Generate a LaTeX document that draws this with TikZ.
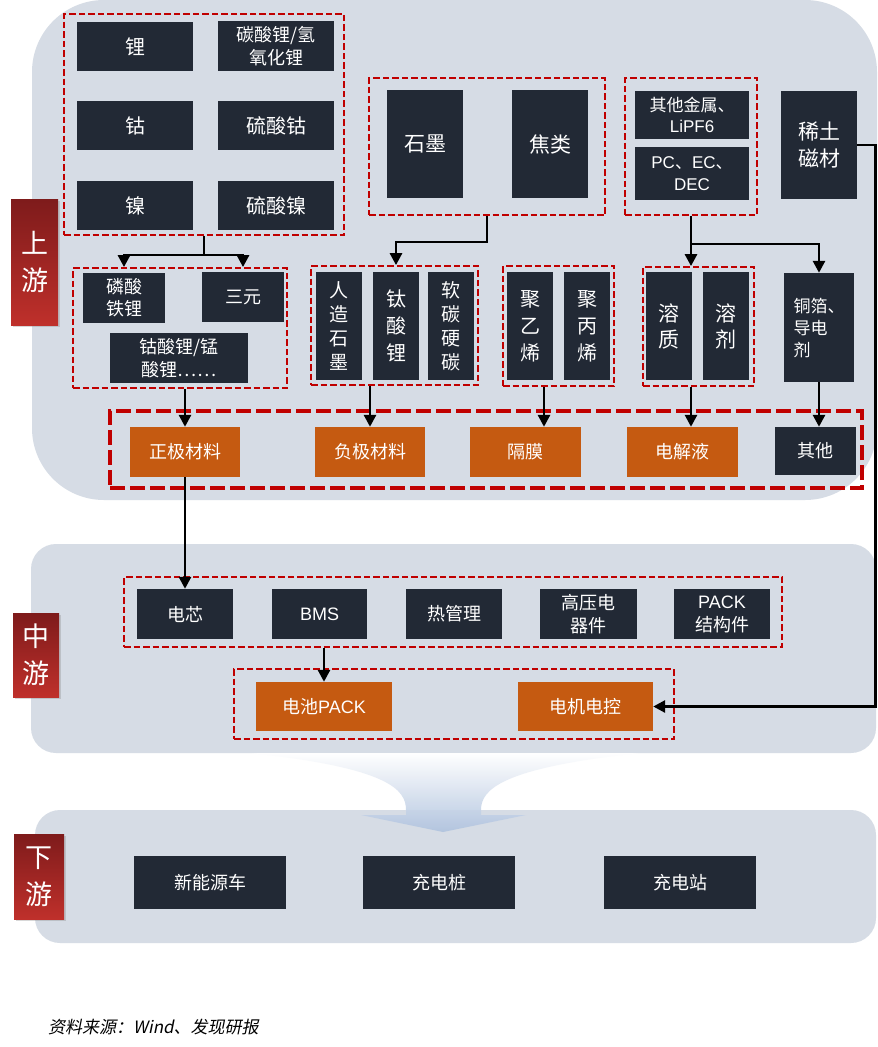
\documentclass[tikz,border=0pt]{standalone}
\usepackage{fontspec}
\setmainfont{Noto Sans CJK SC}
\newfontfamily\cjkit[FakeSlant=0.2]{Noto Sans CJK SC}
\newfontfamily\arial{Liberation Sans}
\usetikzlibrary{arrows.meta,shadows,calc}
\definecolor{panel}{HTML}{D6DCE5}
\definecolor{dkbox}{HTML}{222935}
\definecolor{orng}{HTML}{C55A11}
\definecolor{dred}{HTML}{C00000}
\definecolor{labA}{HTML}{7E1B1B}
\definecolor{labB}{HTML}{BF302B}
\definecolor{arrblue}{HTML}{AFC2DE}
\newcommand{\fs}[2]{\fontsize{#1}{#2}\selectfont}
\begin{document}
\begin{tikzpicture}[x=1pt,y=-1pt,
 panelbox/.style={fill=panel, draw=none},
 dk/.style={fill=dkbox, text=white, inner sep=0pt, align=center, font=\fs{18}{23}},
 orbox/.style={fill=orng, text=white, inner sep=0pt, align=center, font=\fs{18}{23}},
 dbox/.style={draw=dred, line width=1.8pt, dash pattern=on 6.5pt off 3pt, inner sep=0pt},
 dboxthick/.style={draw=dred, line width=4.5pt, dash pattern=on 15pt off 5pt, inner sep=0pt},
 lab/.style={top color=labA, bottom color=labB, text=white, inner sep=0pt, align=center, font=\fs{27}{37},
   drop shadow={opacity=0.3, shadow xshift=2pt, shadow yshift=-2pt}},
 arr/.style={draw=black, line width=2.8pt, -{Triangle[width=12pt,length=12pt]}},
]
\fill[white] (0,0) rectangle (878,1047);
\useasboundingbox (0,0) rectangle (878,1047);

% panels
\path[panelbox, rounded corners=72pt] (32,0) rectangle (877,500);
\path[panelbox, rounded corners=25pt] (31,544) rectangle (876,753);
\path[panelbox, rounded corners=25pt] (35,810) rectangle (876,943);

% big down arrow
\shade[top color=white, bottom color=arrblue, opacity=0.9]
  (250,753) .. controls (390,768) and (406,790) .. (406,810) -- (406,815) -- (361,815) -- (443,832)
  -- (526,815) -- (481,815) -- (481,810) .. controls (481,790) and (500,768) .. (640,753) -- cycle;

% dashed groups
\node[dbox, minimum width=280pt, minimum height=221pt] (gA) at (204,124.5) {};
\node[dbox, minimum width=236pt, minimum height=137pt] (gB) at (487,146.5) {};
\node[dbox, minimum width=132pt, minimum height=137pt] (gC) at (691,146.5) {};
\node[dbox, minimum width=214pt, minimum height=120pt] (gD) at (180,328) {};
\node[dbox, minimum width=167pt, minimum height=119pt] (gF) at (394.5,325.5) {};
\node[dbox, minimum width=111pt, minimum height=120pt] (gG) at (558.5,326) {};
\node[dbox, minimum width=111pt, minimum height=119pt] (gH) at (698.5,326.5) {};
\node[dboxthick, minimum width=752pt, minimum height=77pt] (gE) at (486,449.5) {};
\node[dbox, minimum width=658pt, minimum height=70pt] (gI) at (453,612) {};
\node[dbox, minimum width=440pt, minimum height=70pt] (gJ) at (454,704) {};

% raw materials
\node[dk, minimum width=116pt, minimum height=49pt, font=\fs{20}{24}] (li) at (135,46.5) {锂};
\node[dk, minimum width=116pt, minimum height=50pt] (tsli) at (276,46) {碳酸锂/氢\\氧化锂};
\node[dk, minimum width=116pt, minimum height=49pt, font=\fs{20}{24}] (gu) at (135,125.5) {钴};
\node[dk, minimum width=116pt, minimum height=49pt, font=\fs{20}{24}] (lsg) at (276,125.5) {硫酸钴};
\node[dk, minimum width=116pt, minimum height=49pt, font=\fs{20}{24}] (nie) at (135,205.5) {镍};
\node[dk, minimum width=116pt, minimum height=49pt, font=\fs{20}{24}] (lsn) at (276,205.5) {硫酸镍};

\node[dk, minimum width=76pt, minimum height=108pt, font=\fs{21}{26}] (sm) at (425,144) {石墨};
\node[dk, minimum width=76pt, minimum height=108pt, font=\fs{21}{26}] (jl) at (550,144) {焦类};
\node[dk, minimum width=114pt, minimum height=48pt, font=\fs{17}{21}] (qtjs) at (692,115) {其他金属、\\{\arial LiPF6}};
\node[dk, minimum width=114pt, minimum height=53pt, font=\fs{17}{22}] (pc) at (692,173.5) {{\arial PC}、{\arial EC}、\\{\arial DEC}};
\node[dk, minimum width=76pt, minimum height=108pt, font=\fs{21}{27}] (xt) at (819,145) {稀土\\磁材};

% second row
\node[dk, minimum width=82pt, minimum height=50pt, font=\fs{18}{22}] (lfp) at (124,298) {磷酸\\铁锂};
\node[dk, minimum width=82pt, minimum height=50pt] (sy) at (243,297) {三元};
\node[dk, minimum width=138pt, minimum height=50pt] (gsl) at (179,358) {钴酸锂/锰\\酸锂……};

\node[dk, minimum width=46pt, minimum height=108pt, font=\fs{19}{24}] (rzsm) at (339,326) {人\\造\\石\\墨};
\node[dk, minimum width=46pt, minimum height=108pt, font=\fs{20}{27}] (tsl) at (396,326) {钛\\酸\\锂};
\node[dk, minimum width=46pt, minimum height=108pt, font=\fs{19}{24}] (rt) at (451,326) {软\\碳\\硬\\碳};
\node[dk, minimum width=46pt, minimum height=108pt, font=\fs{20}{27}] (jyx) at (530,326) {聚\\乙\\烯};
\node[dk, minimum width=46pt, minimum height=108pt, font=\fs{20}{27}] (jbx) at (587,326) {聚\\丙\\烯};
\node[dk, minimum width=46pt, minimum height=108pt, font=\fs{21}{26}] (rz) at (669,326) {溶\\质};
\node[dk, minimum width=46pt, minimum height=108pt, font=\fs{21}{26}] (rj) at (726,326) {溶\\剂};
\node[dk, minimum width=70pt, minimum height=109pt, font=\fs{17}{22}, align=left] (cu) at (819,327.5) {铜箔、\\导电\\剂};

% materials row
\node[orbox, minimum width=110pt, minimum height=50pt] (zj) at (185,452) {正极材料};
\node[orbox, minimum width=110pt, minimum height=50pt] (fj) at (370,452) {负极材料};
\node[orbox, minimum width=111pt, minimum height=50pt] (gm) at (525.5,452) {隔膜};
\node[orbox, minimum width=111pt, minimum height=50pt] (djy) at (682.5,452) {电解液};
\node[dk, minimum width=81pt, minimum height=48pt] (qt) at (815.5,451) {其他};

% midstream
\node[dk, minimum width=96pt, minimum height=50pt] (dx) at (185,614) {电芯};
\node[dk, minimum width=95pt, minimum height=50pt] (bms) at (319.5,614) {\arial BMS};
\node[dk, minimum width=96pt, minimum height=50pt] (rgl) at (454,614) {热管理};
\node[dk, minimum width=97pt, minimum height=50pt] (gy) at (588.5,614) {高压电\\器件};
\node[dk, minimum width=96pt, minimum height=50pt] (pack) at (722,614) {{\arial PACK}\\结构件};
\node[orbox, minimum width=136pt, minimum height=49pt] (dcp) at (324,706.5) {电池{\arial PACK}};
\node[orbox, minimum width=135pt, minimum height=49pt] (djdk) at (585.5,706.5) {电机电控};

% downstream
\node[dk, minimum width=152pt, minimum height=53pt] (xny) at (210,882.5) {新能源车};
\node[dk, minimum width=152pt, minimum height=53pt] (cdz) at (439,882.5) {充电桩};
\node[dk, minimum width=152pt, minimum height=53pt] (cdzh) at (680,882.5) {充电站};

% labels
\node[lab, minimum width=47pt, minimum height=126pt] (up) at (34.5,262) {上\\游};
\node[lab, minimum width=46pt, minimum height=84pt] (mid) at (36,655) {中\\游};
\node[lab, minimum width=50pt, minimum height=85pt] (down) at (39,876.5) {下\\游};

% connectors
\draw[arr] (gA.south) -- ++(0,19) -| (gD.north -| lfp.north);
\draw[arr] (gA.south) -- ++(0,19) -| (gD.north -| sy.north);
\draw[arr] (gB.south) -- ++(0,26) -| (gF.north -| tsl.north);
\draw[arr] (gC.south) -- (gC.south |- gH.north);
\draw[arr] (gC.south) -- ++(0,28) -| (cu.north);
\draw[arr] (gD.south -| zj.north) -- (zj.north);
\draw[arr] (gF.south -| fj.north) -- (fj.north);
\draw[arr] ([xshift=18.5pt]gm.north |- gG.south) -- ([xshift=18.5pt]gm.north);
\draw[arr] ([xshift=8.5pt]djy.north |- gH.south) -- ([xshift=8.5pt]djy.north);
\draw[arr] (cu.south) -- (cu.south |- qt.north);
\draw[arr] (zj.south) -- (dx.north);
\draw[arr] (gI.south -| dcp.north) -- (dcp.north);
\draw[arr] (xt.east) -- ++(18,0) |- (djdk.east);

% source
\node[anchor=west, inner sep=0pt, font=\cjkit\fs{17}{20}] (src) at (48,1027) {资料来源：{\itshape Wind}、发现研报};
\end{tikzpicture}
\end{document}
